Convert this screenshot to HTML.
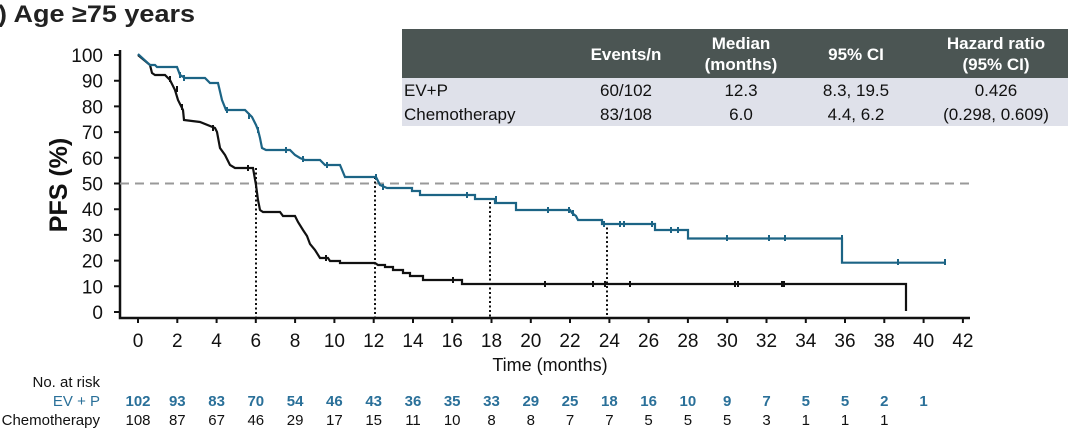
<!DOCTYPE html>
<html><head><meta charset="utf-8"><style>
body{margin:0;background:#fff;width:1080px;height:433px;overflow:hidden}
svg{display:block;font-family:"Liberation Sans",Arial,sans-serif}
</style></head><body>
<svg width="1080" height="433" viewBox="0 0 1080 433" xmlns="http://www.w3.org/2000/svg">
<text x="-2" y="22" font-size="24" font-weight="bold" fill="#222" textLength="197" lengthAdjust="spacingAndGlyphs">) Age ≥75 years</text>

<!-- table -->
<rect x="402" y="29" width="666" height="49" fill="#4b5553"/>
<rect x="402" y="78" width="666" height="48" fill="#dfe1ea"/>
<g font-size="17" fill="#fff" font-weight="bold" text-anchor="middle">
<text x="626" y="60">Events/n</text>
<text x="741" y="49">Median</text><text x="741" y="70">(months)</text>
<text x="856" y="60">95% CI</text>
<text x="996" y="49">Hazard ratio</text><text x="996" y="70">(95% CI)</text>
</g>
<g font-size="17" fill="#111" text-anchor="middle">
<text x="404" y="96" text-anchor="start">EV+P</text>
<text x="404" y="120" text-anchor="start">Chemotherapy</text>
<text x="626" y="96">60/102</text><text x="626" y="120">83/108</text>
<text x="741" y="96">12.3</text><text x="741" y="120">6.0</text>
<text x="856" y="96">8.3, 19.5</text><text x="856" y="120">4.4, 6.2</text>
<text x="996" y="96">0.426</text><text x="996" y="120">(0.298, 0.609)</text>
</g>

<!-- axes -->
<g stroke="#111" stroke-width="2.5" fill="none">
<path d="M120 50 V318 H970"/>
</g>
<g stroke="#111" stroke-width="2">
<path d="M114 55H120M114 80.7H120M114 106.4H120M114 132.1H120M114 157.8H120M114 183.5H120M114 209.2H120M114 234.9H120M114 260.6H120M114 286.3H120M114 312H120"/>
<path d="M138 318v5M177.3 318v5M216.6 318v5M255.8 318v5M295.1 318v5M334.4 318v5M373.7 318v5M413 318v5M452.2 318v5M491.5 318v5M530.8 318v5M570 318v5M609.4 318v5M648.6 318v5M687.9 318v5M727.2 318v5M766.5 318v5M805.8 318v5M845 318v5M884.3 318v5M923.6 318v5M962.9 318v5"/>
</g>
<g font-size="19" fill="#111" text-anchor="end">
<text x="103" y="62">100</text><text x="103" y="87.7">90</text><text x="103" y="113.4">80</text><text x="103" y="139.1">70</text><text x="103" y="164.8">60</text><text x="103" y="190.5">50</text><text x="103" y="216.2">40</text><text x="103" y="241.9">30</text><text x="103" y="267.6">20</text><text x="103" y="293.3">10</text><text x="103" y="319">0</text>
</g>
<text transform="translate(67,185) rotate(-90)" font-size="25" font-weight="bold" text-anchor="middle" fill="#111">PFS (%)</text>
<g font-size="19" fill="#111" text-anchor="middle">
<text x="138" y="347">0</text><text x="177.3" y="347">2</text><text x="216.6" y="347">4</text><text x="255.8" y="347">6</text><text x="295.1" y="347">8</text><text x="334.4" y="347">10</text><text x="373.7" y="347">12</text><text x="413" y="347">14</text><text x="452.2" y="347">16</text><text x="491.5" y="347">18</text><text x="530.8" y="347">20</text><text x="570" y="347">22</text><text x="609.4" y="347">24</text><text x="648.6" y="347">26</text><text x="687.9" y="347">28</text><text x="727.2" y="347">30</text><text x="766.5" y="347">32</text><text x="805.8" y="347">34</text><text x="845" y="347">36</text><text x="884.3" y="347">38</text><text x="923.6" y="347">40</text><text x="962.9" y="347">42</text>
</g>
<text x="550" y="371" font-size="18" text-anchor="middle" fill="#111">Time (months)</text>

<!-- 50% dashed -->
<path d="M120 183.5H970" stroke="#999" stroke-width="2" stroke-dasharray="9,6"/>
<!-- median dotted -->
<g stroke="#111" stroke-width="2" stroke-dasharray="2,2.5">
<path d="M256 168V318M375 177V318M490 202V318M607 223V318"/>
</g>

<!-- chemo -->
<path fill="none" stroke="#111" stroke-width="2.2" d="M138 55 L150 65 L152 73 L155 75 H165 L170 80 L175 90 L178 100 L183 110 L184 120 L200 122 L215 128 L217 132 L220 148 L225 155 L230 165 L235 168 H253 L256 185 L258 200 L260 210 L263 212 H280 L283 216 H295 L298 222 L303 230 L307 236 L310 244 L315 250 L320 258 H328 L330 261 H340 V263 H375 L378 265 H385 V267 H393 V270 H403 V273 H410 V276 H423 V280 H462 V284 H906 V311"/>
<g stroke="#111" stroke-width="2"><path d="M170 76v6M177 86v6M182 104v6M213 125v6M248 165v6M256 182v6M326 255v6M453 277v6M545 281v6M593 281v6M605 281v6M630 281v6M735 281v6M738 281v6M782 281v6M784 281v6"/></g>

<!-- EV+P -->
<path fill="none" stroke="#1c6485" stroke-width="2.2" d="M138 54 L150 65 H155 L157 67 H177 L180 75 L185 78 H205 L210 83 H218 L222 100 L226 110 H245 L252 117 L256 125 L258 130 L260 138 L262 148 L266 150 H290 L295 155 L300 158 L305 160 H320 L325 165 H340 L345 177 H376 L380 185 L387 188 H412 V191 H420 V195 H475 V199 H495 V203 H516 V210 H570 L572 213 L576 216 L578 220 H602 V224 H655 V230 H688 V238.5 H842 V262.7 H945"/>
<g stroke="#1c6485" stroke-width="2"><path d="M180 72v6M184 75v6M227 107v6M249 113v6M258 127v6M286 147v6M303 156v6M327 162v6M376 174v6M383 184v6M467 192v6M496 196v6M548 207v6M569 207v6M573 210v6M604 221v6M620 221v6M624 221v6M652 221v6M671 227v6M678 227v6M727 235v6M769 235v6M785 235v6M842 235v6M898 259v6M945 259v6"/></g>

<!-- at risk -->
<g font-size="15" fill="#111" text-anchor="end">
<text x="100" y="387">No. at risk</text>
<text x="100" y="406" fill="#2a7099">EV + P</text>
<text x="100" y="425">Chemotherapy</text>
</g>
<g font-size="15" font-weight="bold" fill="#2a7099" text-anchor="middle">
<text x="138" y="406">102</text><text x="177.3" y="406">93</text><text x="216.6" y="406">83</text><text x="255.8" y="406">70</text><text x="295.1" y="406">54</text><text x="334.4" y="406">46</text><text x="373.7" y="406">43</text><text x="413" y="406">36</text><text x="452.2" y="406">35</text><text x="491.5" y="406">33</text><text x="530.8" y="406">29</text><text x="570" y="406">25</text><text x="609.4" y="406">18</text><text x="648.6" y="406">16</text><text x="687.9" y="406">10</text><text x="727.2" y="406">9</text><text x="766.5" y="406">7</text><text x="805.8" y="406">5</text><text x="845" y="406">5</text><text x="884.3" y="406">2</text><text x="923.6" y="406">1</text>
</g>
<g font-size="15" fill="#111" text-anchor="middle">
<text x="138" y="425">108</text><text x="177.3" y="425">87</text><text x="216.6" y="425">67</text><text x="255.8" y="425">46</text><text x="295.1" y="425">29</text><text x="334.4" y="425">17</text><text x="373.7" y="425">15</text><text x="413" y="425">11</text><text x="452.2" y="425">10</text><text x="491.5" y="425">8</text><text x="530.8" y="425">8</text><text x="570" y="425">7</text><text x="609.4" y="425">7</text><text x="648.6" y="425">5</text><text x="687.9" y="425">5</text><text x="727.2" y="425">5</text><text x="766.5" y="425">3</text><text x="805.8" y="425">1</text><text x="845" y="425">1</text><text x="884.3" y="425">1</text>
</g>
</svg>
</body></html>
